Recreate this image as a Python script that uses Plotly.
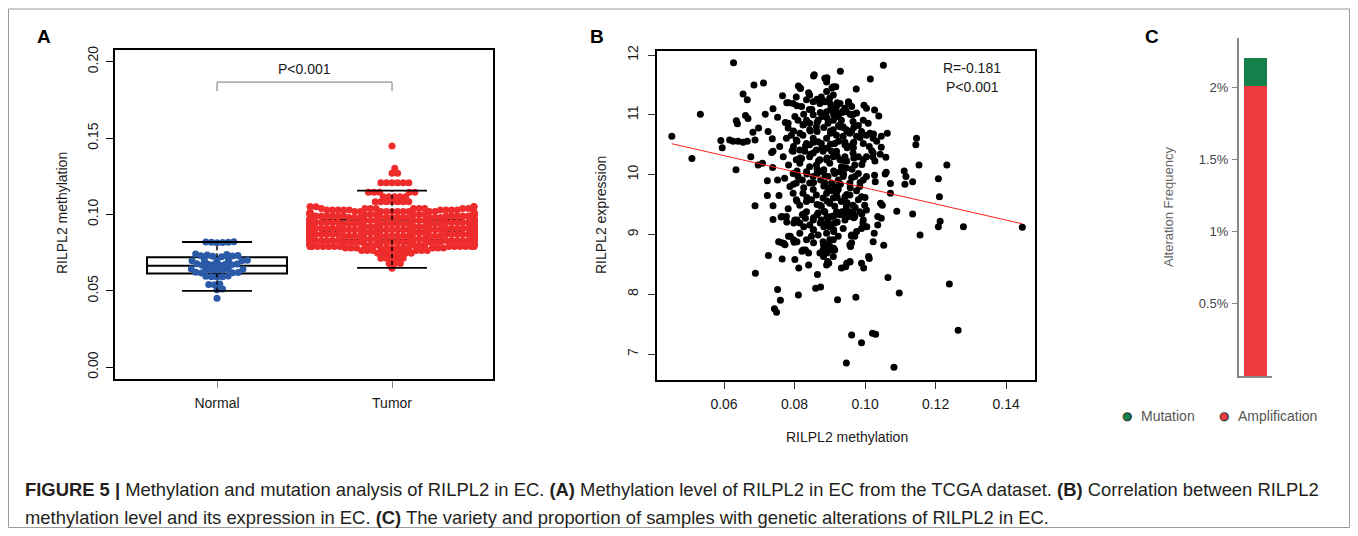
import numpy as np
import plotly.graph_objects as go

# The page body has an 8px margin on every side; the figure is sized so that
# it fits the 1358x536 window exactly, and layout positions are given in page
# pixels, converted by fx/fy.
PAGE_OFF = 8
W, H = 1358 - 2 * PAGE_OFF, 536 - 2 * PAGE_OFF

# ---------------- Panel A data ----------------
normal_values = [
    0.0820, 0.0818, 0.0816, 0.0821, 0.0815, 0.0819,
    0.0742, 0.0738, 0.0735,
    0.0730, 0.0728, 0.0726, 0.0731, 0.0724,
    0.0702, 0.0700, 0.0698, 0.0703, 0.0697, 0.0701,
    0.0676, 0.0673, 0.0671, 0.0675, 0.0669, 0.0678, 0.0672, 0.0667,
    0.0642, 0.0640, 0.0638, 0.0644, 0.0636, 0.0641, 0.0639,
    0.0621, 0.0619, 0.0617, 0.0622,
    0.0595, 0.0593, 0.0590, 0.0597, 0.0592,
    0.0545, 0.0542, 0.0540,
    0.0512, 0.0508,
    0.0452,
]
tumor_levels = [0.0648, 0.0680, 0.0713, 0.0746, 0.0765,
                0.0780, 0.0790, 0.0800, 0.0810, 0.0820, 0.0830,
                0.0840, 0.0850, 0.0860, 0.0870, 0.0880, 0.0890,
                0.0900, 0.0910, 0.0920, 0.0930, 0.0940, 0.0950, 0.0960,
                0.0970, 0.0980, 0.0990, 0.1000, 0.1010, 0.1020, 0.1030, 0.1040, 0.1050,
                0.1084, 0.1117, 0.1145, 0.1208, 0.1270, 0.1302, 0.1448]
tumor_counts = [1, 3, 5, 7, 6,
                12, 13, 14, 14, 15, 15,
                17, 18, 18, 18, 18, 18,
                16, 16, 16, 15, 15, 15, 15,
                13, 12, 12, 12, 11, 10, 9, 9, 6,
                7, 5, 5, 6, 2, 1, 1]
groups = ["Normal", "Tumor"]
group_pos = [1, 2]
box_q1 = [0.0613, 0.0833]
box_median = [0.0665, 0.0894]
box_q3 = [0.0720, 0.0966]
whisker_low = [0.0500, 0.0650]
whisker_high = [0.0820, 0.1156]
a_yticks = [0.00, 0.05, 0.10, 0.15, 0.20]
a_yticktext = ["0.00", "0.05", "0.10", "0.15", "0.20"]
pvalue_text_a = "P<0.001"

# ---------------- Panel B data ----------------
scatter_points = [
    (0.0452, 10.64), (0.0509, 10.27), (0.0533, 11.01), (0.0591, 10.57), (0.0595, 10.45), (0.0616, 10.58), (0.0627, 11.87), (0.0634, 10.08), (0.0635, 10.90), (0.0638, 10.85),
    (0.0626, 10.56), (0.0640, 10.56), (0.0654, 11.35), (0.0661, 10.99), (0.0666, 11.25), (0.0668, 10.94), (0.0654, 10.54), (0.0666, 10.56), (0.0676, 10.30), (0.0682, 10.71),
    (0.0685, 11.50), (0.0688, 10.58), (0.0688, 9.48), (0.0689, 8.35), (0.0698, 10.78), (0.0697, 10.16), (0.0712, 11.53), (0.0709, 10.19), (0.0717, 11.01), (0.0725, 10.72),
    (0.0723, 9.90), (0.0723, 9.65), (0.0726, 8.65), (0.0739, 11.10), (0.0735, 10.37), (0.0737, 10.60), (0.0739, 10.39), (0.0738, 10.12), (0.0739, 9.48), (0.0739, 9.25),
    (0.0743, 7.76), (0.0749, 7.70), (0.0752, 8.08), (0.0760, 7.90), (0.0752, 10.96), (0.0752, 9.91), (0.0756, 9.65), (0.0758, 10.47), (0.0755, 8.88), (0.0766, 11.32),
    (0.0768, 10.30), (0.0765, 8.59), (0.0762, 9.29), (0.0770, 8.85), (0.0772, 9.94), (0.0777, 9.30), (0.0778, 11.20), (0.0782, 10.86), (0.0782, 10.78), (0.0783, 10.16),
    (0.0782, 9.43), (0.0783, 8.97), (0.0787, 9.80), (0.0797, 10.47), (0.0799, 8.87), (0.0801, 8.58), (0.0805, 11.30), (0.0811, 11.48), (0.0811, 7.99), (0.0812, 8.44),
    (0.0817, 11.44), (0.0820, 11.14), (0.0824, 10.83), (0.0820, 10.27), (0.0822, 9.33), (0.0824, 8.74), (0.0831, 8.74), (0.0840, 8.49), (0.0842, 11.09), (0.0843, 11.33),
    (0.0843, 10.13), (0.0848, 9.58), (0.0856, 11.67), (0.0860, 8.10), (0.0865, 8.33), (0.0874, 8.12), (0.0886, 11.61), (0.0891, 11.55), (0.0910, 11.47), (0.0917, 11.47),
    (0.0930, 11.73), (0.0891, 8.49), (0.0894, 8.55), (0.0922, 7.91), (0.0933, 8.44), (0.0945, 8.46), (0.0947, 6.85), (0.0962, 7.32), (0.0957, 8.54), (0.0961, 8.98),
    (0.0959, 8.80), (0.0974, 7.95), (0.0990, 7.19), (0.0996, 8.44), (0.0990, 8.52), (0.0975, 11.43), (0.0953, 11.22), (0.1015, 11.60), (0.0997, 11.16), (0.1004, 11.11),
    (0.1027, 11.08), (0.1039, 10.98), (0.1052, 11.83), (0.1021, 7.35), (0.1030, 7.33), (0.1082, 6.78), (0.1065, 8.28), (0.1097, 8.02), (0.1010, 8.63), (0.1012, 8.60),
    (0.1023, 8.88), (0.1026, 9.02), (0.1036, 9.16), (0.1053, 8.82), (0.1036, 9.30), (0.1046, 9.27), (0.1044, 9.52), (0.1049, 9.49), (0.1090, 9.39), (0.1135, 9.34),
    (0.1156, 8.99), (0.1208, 9.13), (0.1213, 9.22), (0.1211, 9.63), (0.1208, 9.93), (0.1232, 10.16), (0.1239, 8.17), (0.1264, 7.40), (0.1279, 9.13), (0.1446, 9.12),
    (0.1146, 10.61), (0.1144, 10.50), (0.1153, 10.16), (0.1111, 10.06), (0.1116, 9.97), (0.1113, 9.84), (0.1135, 9.88), (0.1072, 9.85), (0.1072, 9.69), (0.1063, 10.69),
    (0.1059, 10.29), (0.1046, 10.46), (0.1046, 10.64), (0.1057, 10.01), (0.1060, 10.04), (0.1027, 9.99), (0.1029, 9.88), (0.1023, 10.36), (0.1022, 10.30), (0.1014, 10.69),
    (0.1012, 10.47),
    # dense core
    (0.0853, 11.22), (0.0864, 11.25), (0.0872, 11.19), (0.0886, 11.22), (0.0910, 11.33), (0.0929, 11.19), (0.0943, 11.11), (0.0891, 11.39), (0.0900, 11.28), (0.0919, 11.14),
    (0.0876, 11.30), (0.0962, 11.14), (0.0834, 11.25), (0.0796, 11.19),
    (0.0801, 10.97), (0.0810, 10.91), (0.0853, 11.00), (0.0867, 10.91), (0.0878, 10.97), (0.0891, 11.05), (0.0902, 11.09), (0.0910, 10.91), (0.0919, 11.05), (0.0933, 10.91),
    (0.0947, 11.05), (0.0962, 11.00), (0.0976, 11.03), (0.0995, 10.91), (0.1009, 10.86), (0.0862, 10.80), (0.0938, 10.80), (0.0834, 10.91), (0.0895, 10.86), (0.0924, 10.97),
    (0.0843, 10.86), (0.0966, 10.89),
    (0.0777, 10.61), (0.0805, 10.58), (0.0815, 10.69), (0.0824, 10.66), (0.0834, 10.52), (0.0843, 10.75), (0.0853, 10.61), (0.0864, 10.72), (0.0876, 10.52), (0.0891, 10.61),
    (0.0902, 10.69), (0.0910, 10.75), (0.0919, 10.66), (0.0929, 10.80), (0.0938, 10.64), (0.0947, 10.75), (0.0957, 10.69), (0.0966, 10.52), (0.0976, 10.64), (0.0990, 10.72),
    (0.1004, 10.66), (0.1023, 10.61), (0.0791, 10.66), (0.0914, 10.52), (0.0943, 10.50), (0.0995, 10.52), (0.0867, 10.55), (0.0843, 10.50),
    (0.0796, 10.39), (0.0805, 10.25), (0.0815, 10.41), (0.0829, 10.39), (0.0853, 10.36), (0.0862, 10.41), (0.0872, 10.25), (0.0881, 10.39), (0.0891, 10.44), (0.0900, 10.19),
    (0.0910, 10.30), (0.0919, 10.39), (0.0929, 10.25), (0.0943, 10.30), (0.0952, 10.47), (0.0966, 10.36), (0.0981, 10.30), (0.0995, 10.25), (0.1004, 10.30), (0.0815, 10.19),
    (0.0862, 10.16), (0.0891, 10.25), (0.0933, 10.13), (0.0971, 10.16), (0.0843, 10.30), (0.0905, 10.39),
    (0.0796, 10.02), (0.0810, 9.97), (0.0822, 9.91), (0.0834, 10.05), (0.0853, 9.97), (0.0864, 10.02), (0.0874, 9.91), (0.0883, 10.08), (0.0895, 9.97), (0.0905, 9.86),
    (0.0914, 10.02), (0.0924, 9.91), (0.0938, 9.97), (0.0947, 10.11), (0.0957, 9.86), (0.0971, 9.97), (0.0981, 10.02), (0.0995, 9.91), (0.1004, 9.97), (0.0843, 9.86),
    (0.0886, 9.86), (0.0914, 9.80), (0.0985, 9.80), (0.0805, 9.86), (0.0872, 10.05), (0.0929, 10.05),
    (0.0805, 9.58), (0.0815, 9.49), (0.0824, 9.69), (0.0834, 9.55), (0.0862, 9.66), (0.0872, 9.49), (0.0881, 9.61), (0.0891, 9.69), (0.0900, 9.52), (0.0910, 9.61),
    (0.0919, 9.69), (0.0933, 9.55), (0.0943, 9.63), (0.0957, 9.66), (0.0966, 9.49), (0.0981, 9.58), (0.0990, 9.63), (0.0999, 9.49), (0.0796, 9.69), (0.0853, 9.75),
    (0.0895, 9.77), (0.0924, 9.75), (0.0876, 9.47), (0.0914, 9.47), (0.0947, 9.47),
    (0.0801, 9.24), (0.0815, 9.19), (0.0834, 9.38), (0.0853, 9.24), (0.0867, 9.36), (0.0876, 9.24), (0.0886, 9.38), (0.0895, 9.22), (0.0905, 9.30), (0.0914, 9.19),
    (0.0929, 9.33), (0.0943, 9.24), (0.0957, 9.38), (0.0971, 9.30), (0.0985, 9.38), (0.0995, 9.24), (0.1004, 9.41), (0.0843, 9.16), (0.0900, 9.13), (0.0919, 9.38),
    (0.0886, 9.16),
    (0.0815, 9.02), (0.0834, 8.91), (0.0853, 9.08), (0.0867, 8.99), (0.0881, 8.88), (0.0891, 9.02), (0.0900, 8.91), (0.0911, 9.05), (0.0924, 8.97), (0.0938, 9.10),
    (0.0976, 9.05), (0.0990, 9.10), (0.0895, 8.83), (0.0910, 8.91), (0.0848, 8.97),
    (0.0872, 8.69), (0.0905, 8.74), (0.0881, 8.74), (0.0910, 8.63), (0.0900, 8.74), (0.0914, 8.74),
    # further core points (upper-left part of the cloud)
    (0.0816, 11.45), (0.0840, 11.37), (0.0854, 11.65), (0.0892, 11.62), (0.0906, 11.45), (0.0864, 11.26), (0.0883, 11.23), (0.0902, 11.18), (0.0921, 11.20), (0.0954, 11.20),
    (0.0783, 11.20), (0.0807, 11.15), (0.0826, 11.01), (0.0849, 11.09), (0.0873, 11.04), (0.0892, 10.95), (0.0911, 11.01), (0.0935, 11.04), (0.0958, 11.01), (0.0774, 10.87),
    (0.0797, 10.73), (0.0826, 10.84), (0.0845, 10.73), (0.0864, 10.87), (0.0883, 10.79), (0.0902, 10.73), (0.0925, 10.82), (0.0949, 10.73), (0.0968, 10.79), (0.0807, 10.56),
    (0.0831, 10.48), (0.0854, 10.54), (0.0878, 10.45), (0.0902, 10.51), (0.0925, 10.56), (0.0949, 10.45), (0.0968, 10.54), (0.0793, 10.40), (0.0816, 10.28), (0.0845, 10.34),
    (0.0868, 10.23), (0.0892, 10.28), (0.0921, 10.31), (0.0944, 10.23), (0.0968, 10.28), (0.0807, 10.06), (0.0835, 10.01), (0.0864, 10.09), (0.0887, 9.98), (0.0911, 10.06),
    (0.0939, 10.01), (0.0963, 10.09), (0.0797, 9.84), (0.0826, 9.78), (0.0854, 9.87), (0.0883, 9.81), (0.0906, 9.73), (0.0930, 9.84), (0.0958, 9.78), (0.0807, 9.56),
    (0.0835, 9.62), (0.0864, 9.50), (0.0892, 9.56), (0.0921, 9.62), (0.0949, 9.53), (0.0826, 9.34), (0.0854, 9.28), (0.0883, 9.39), (0.0911, 9.31), (0.0939, 9.34),
    (0.0968, 9.28),
    # further core points (right part of the cloud)
    (0.0938, 11.07), (0.0953, 11.20), (0.0967, 11.01), (0.0938, 10.79), (0.0962, 10.73), (0.0981, 10.82), (0.0943, 10.54), (0.0967, 10.45), (0.0986, 10.62), (0.0948, 10.23),
    (0.0972, 10.29), (0.0991, 10.17), (0.0938, 10.01), (0.0962, 9.95), (0.0986, 9.87), (0.0948, 9.67), (0.0976, 9.73), (0.1000, 9.62), (0.0943, 9.39), (0.0972, 9.45),
    (0.0991, 9.34), (0.1024, 10.68), (0.1033, 10.56), (0.1019, 10.40), (0.1028, 10.23), (0.1043, 10.34),
    # further core points (lower part of the cloud)
    (0.0948, 9.30), (0.0966, 9.35), (0.0994, 9.19), (0.1005, 9.13), (0.0962, 8.99), (0.0971, 8.97), (0.0957, 8.83), (0.0962, 8.86), (0.0948, 8.52), (0.0957, 8.55),
    (0.0764, 9.30), (0.0778, 9.21), (0.0798, 9.19), (0.0807, 9.24), (0.0826, 9.13), (0.0831, 9.27), (0.0854, 9.08), (0.0864, 9.33), (0.0873, 9.19), (0.0883, 9.13),
    (0.0892, 9.30), (0.0902, 9.16), (0.0911, 9.08), (0.0921, 9.21), (0.0935, 9.38), (0.0954, 9.30),
    (0.0764, 8.86), (0.0773, 8.83), (0.0788, 8.97), (0.0797, 8.91), (0.0807, 8.88), (0.0821, 8.72), (0.0840, 8.69), (0.0854, 8.86), (0.0882, 8.83), (0.0887, 8.74),
    (0.0892, 8.69), (0.0901, 8.80), (0.0911, 8.77), (0.0897, 8.52), (0.0882, 8.63),
]
fit_intercept = 11.126
fit_slope = -13.47
corr_text = ["R=-0.181", "P<0.001"]
b_xticks = [0.06, 0.08, 0.10, 0.12, 0.14]
b_xticktext = ["0.06", "0.08", "0.10", "0.12", "0.14"]
b_yticks = [7, 8, 9, 10, 11, 12]

# ---------------- Panel C data ----------------
alteration_types = ["Amplification", "Mutation"]
alteration_freq = [2.01, 0.19]  # percent
alteration_colors = ["#EE3B3F", "#14804A"]
legend_order = ["Mutation", "Amplification"]
c_yticks = [0.5, 1.0, 1.5, 2.0]
c_yticktext = ["0.5%", "1%", "1.5%", "2%"]

caption_line1 = ("<b>FIGURE 5 |</b> Methylation and mutation analysis of RILPL2 in EC. <b>(A)</b> Methylation level of "
                 "RILPL2 in EC from the TCGA dataset. <b>(B)</b> Correlation between RILPL2")
caption_line2 = ("methylation level and its expression in EC. <b>(C)</b> The variety and proportion of samples with "
                 "genetic alterations of RILPL2 in EC.")


def fx(px):
    return (px - PAGE_OFF) / W


def fy(py):
    return 1 - (py - PAGE_OFF) / H


# ---------------- beeswarm layout (pixel-space packing) ----------------
A_XRANGE = [0.417, 2.577]
A_YRANGE = [-0.0077, 0.2077]
A_XPIX = (493 - 115) / (A_XRANGE[1] - A_XRANGE[0])
A_YPIX = (379 - 50) / (A_YRANGE[1] - A_YRANGE[0])


def swarm(values, d=5.6, limit=None):
    vals = np.asarray(values, dtype=float)
    ys = vals * A_YPIX
    order = np.argsort(vals, kind="stable")
    px_list, py_list = [], []
    off = np.zeros(len(vals))
    for i in order:
        y = ys[i]
        x = 0.0
        if px_list:
            pxa = np.array(px_list)
            pya = np.array(py_list)
            dy = pya - y
            m = np.abs(dy) < d
            if m.any():
                nx = pxa[m]
                ndy = dy[m]
                h = np.sqrt(d * d - ndy * ndy)
                cand = np.concatenate([[0.0], nx + h, nx - h])
                cand = cand[np.argsort(np.abs(cand), kind="stable")]
                ok = ((cand[:, None] - nx[None, :]) ** 2 + ndy[None, :] ** 2 >= d * d - 1e-6).all(axis=1)
                x = cand[ok][0]
        px_list.append(x)
        py_list.append(y)
        off[i] = x
    if limit is not None:
        off = np.clip(off, -limit, limit)
    return off / A_XPIX


tumor_values = np.repeat(tumor_levels, tumor_counts)
normal_off = swarm(normal_values)
tumor_off = swarm(tumor_values, limit=82)

fig = go.Figure()

# Panel A points
fig.add_trace(go.Scatter(x=group_pos[0] + normal_off, y=normal_values, mode="markers",
                         marker=dict(color="#2B5BA8", size=7, line=dict(width=0)),
                         xaxis="x", yaxis="y", showlegend=False, hoverinfo="skip"))
fig.add_trace(go.Scatter(x=group_pos[1] + tumor_off, y=tumor_values, mode="markers",
                         marker=dict(color="#EE2C2C", size=7, line=dict(width=0)),
                         xaxis="x", yaxis="y", showlegend=False, hoverinfo="skip"))
# whiskers (dashed) and caps
for k in range(2):
    p = group_pos[k]
    fig.add_trace(go.Scatter(x=[p, p, None, p, p], y=[box_q3[k], whisker_high[k], None, box_q1[k], whisker_low[k]],
                             mode="lines", line=dict(color="black", width=1.5, dash="4px,3px"),
                             xaxis="x", yaxis="y", showlegend=False, hoverinfo="skip"))
    fig.add_trace(go.Scatter(x=[p - 0.2, p + 0.2, None, p - 0.2, p + 0.2],
                             y=[whisker_high[k], whisker_high[k], None, whisker_low[k], whisker_low[k]],
                             mode="lines", line=dict(color="black", width=1.8),
                             xaxis="x", yaxis="y", showlegend=False, hoverinfo="skip"))
# significance bracket
fig.add_trace(go.Scatter(x=[group_pos[0], group_pos[0], group_pos[1], group_pos[1]],
                         y=[0.1808, 0.1867, 0.1867, 0.1808], mode="lines",
                         line=dict(color="#777777", width=1), xaxis="x", yaxis="y",
                         showlegend=False, hoverinfo="skip"))

# Panel B scatter
sx = [p[0] for p in scatter_points]
sy = [p[1] for p in scatter_points]
fig.add_trace(go.Scatter(x=sx, y=sy, mode="markers", marker=dict(color="black", size=7, line=dict(width=0)),
                         xaxis="x2", yaxis="y2", showlegend=False, hoverinfo="skip"))
lx = np.array([min(sx), max(sx)])
fig.add_trace(go.Scatter(x=lx, y=fit_intercept + fit_slope * lx, mode="lines",
                         line=dict(color="#FF2020", width=1), xaxis="x2", yaxis="y2",
                         showlegend=False, hoverinfo="skip"))

# Panel A boxes (drawn on top)
fig.add_trace(go.Box(x=group_pos, q1=box_q1, median=box_median, q3=box_q3,
                     lowerfence=box_q1, upperfence=box_q3, width=0.8,
                     fillcolor="rgba(0,0,0,0)", line=dict(color="black", width=2),
                     boxpoints=False, xaxis="x", yaxis="y", showlegend=False, hoverinfo="skip"))

# Panel C stacked bar
for name, val, col in zip(alteration_types, alteration_freq, alteration_colors):
    fig.add_trace(go.Bar(x=[0], y=[val], name=name, marker=dict(color=col, line=dict(width=0)),
                         width=1.0, xaxis="x3", yaxis="y3", showlegend=False, hoverinfo="skip"))

font_main = "Liberation Sans, Arial, Helvetica, sans-serif"
tick_font = dict(family=font_main, size=14, color="#1a1a1a")

fig.update_layout(
    width=W, height=H, margin=dict(l=0, r=0, t=0, b=0, autoexpand=False),
    paper_bgcolor="white", plot_bgcolor="rgba(0,0,0,0)",
    barmode="stack", font=dict(family=font_main),
    showlegend=False,
    xaxis=dict(domain=[fx(115), fx(493)], range=A_XRANGE, tickvals=group_pos, ticktext=groups,
               ticks="outside", ticklen=7, tickcolor="#888888", showline=True, mirror=True,
               linecolor="black", linewidth=1.5, showgrid=False, zeroline=False,
               tickfont=tick_font, ticklabelstandoff=3, anchor="y", automargin=False),
    yaxis=dict(domain=[fy(379), fy(50)], range=A_YRANGE, tickvals=a_yticks, ticktext=a_yticktext,
               tickangle=-90, ticks="outside", ticklen=7, tickcolor="black", showline=True, mirror=True,
               linecolor="black", linewidth=1.5, showgrid=False, zeroline=False,
               tickfont=tick_font, ticklabelstandoff=3, anchor="x", automargin=False),
    xaxis2=dict(domain=[fx(657), fx(1035)], range=[0.041, 0.1482], tickvals=b_xticks, ticktext=b_xticktext,
                ticks="outside", ticklen=7, tickcolor="#333333", showline=True, mirror=True,
                linecolor="black", linewidth=1.5, showgrid=False, zeroline=False,
                tickfont=tick_font, ticklabelstandoff=3, anchor="y2", automargin=False),
    yaxis2=dict(domain=[fy(380), fy(51)], range=[6.567, 12.067], tickvals=b_yticks,
                tickangle=-90, ticks="outside", ticklen=7, tickcolor="#333333", showline=True, mirror=True,
                linecolor="black", linewidth=1.5, showgrid=False, zeroline=False,
                tickfont=tick_font, ticklabelstandoff=5, anchor="x2", automargin=False),
    xaxis3=dict(domain=[fx(1239), fx(1272)], range=[-0.71, 0.72], showticklabels=False, ticks="",
                showline=True, linecolor="#888888", linewidth=2, showgrid=False, zeroline=False,
                anchor="y3", automargin=False),
    yaxis3=dict(domain=[fy(376), fy(38)], range=[0, 2.342], tickvals=c_yticks, ticktext=c_yticktext,
                ticks="outside", ticklen=5, tickcolor="#888888", showline=True, linecolor="#888888",
                linewidth=2, showgrid=False, zeroline=False,
                tickfont=dict(family=font_main, size=13, color="#444444"), ticklabelstandoff=1,
                anchor="x3", automargin=False),
)

annotations = [
    dict(text="<b>A</b>", x=fx(44), y=fy(36), font=dict(size=19, color="black")),
    dict(text="<b>B</b>", x=fx(597), y=fy(36), font=dict(size=19, color="black")),
    dict(text="<b>C</b>", x=fx(1152), y=fy(36), font=dict(size=19, color="black")),
    dict(text="RILPL2 methylation", x=fx(62), y=fy(213), textangle=-90, font=dict(size=14, color="#1a1a1a")),
    dict(text="RILPL2 expression", x=fx(601), y=fy(215), textangle=-90, font=dict(size=14, color="#1a1a1a")),
    dict(text="RILPL2 methylation", x=fx(847), y=fy(437), font=dict(size=14, color="#1a1a1a")),
    dict(text="Alteration Frequency", x=fx(1168), y=fy(207), textangle=-90, font=dict(size=13, color="#666666")),
]
for a in annotations:
    a.update(xref="paper", yref="paper", showarrow=False, xanchor="center", yanchor="middle")
    a["font"]["family"] = font_main

# Panel C legend (symbol + label for each alteration type)
legend_px = {"Mutation": 1127, "Amplification": 1224}
for name in legend_order:
    col = alteration_colors[alteration_types.index(name)]
    lx0 = legend_px[name]
    annotations.append(dict(text="●", x=fx(lx0), y=fy(415.5), xref="paper", yref="paper", showarrow=False,
                            xanchor="center", yanchor="middle", font=dict(family="DejaVu Sans", size=12, color="#333333")))
    annotations.append(dict(text="●", x=fx(lx0), y=fy(415.5), xref="paper", yref="paper", showarrow=False,
                            xanchor="center", yanchor="middle", font=dict(family="DejaVu Sans", size=9, color=col)))
    annotations.append(dict(text=name, x=fx(lx0 + 12), y=fy(416), xref="paper", yref="paper", showarrow=False,
                            xanchor="left", yanchor="middle", font=dict(family=font_main, size=14, color="#555555")))

# data-anchored texts
annotations.append(dict(text=pvalue_text_a, x=1.5, y=0.1952, xref="x", yref="y", showarrow=False,
                        font=dict(family=font_main, size=14, color="#1a1a1a"), xanchor="center", yanchor="middle"))
annotations.append(dict(text=corr_text[0], x=0.1304, y=11.78, xref="x2", yref="y2", showarrow=False,
                        font=dict(family=font_main, size=14, color="#1a1a1a"), xanchor="center", yanchor="middle"))
annotations.append(dict(text=corr_text[1], x=0.1304, y=11.47, xref="x2", yref="y2", showarrow=False,
                        font=dict(family=font_main, size=14, color="#1a1a1a"), xanchor="center", yanchor="middle"))

cap_font = dict(family=font_main, size=18.4, color="#231F20")
annotations.append(dict(text=caption_line1, x=fx(23), y=fy(489), xref="paper", yref="paper", showarrow=False,
                        xanchor="left", yanchor="middle", font=cap_font))
annotations.append(dict(text=caption_line2, x=fx(23), y=fy(517), xref="paper", yref="paper", showarrow=False,
                        xanchor="left", yanchor="middle", font=cap_font))
fig.update_layout(annotations=annotations)

# outer figure frame
fig.add_shape(type="rect", xref="paper", yref="paper", x0=fx(8.5), x1=fx(1349.5), y0=fy(527.5), y1=fy(9),
              line=dict(color="#9a9a9a", width=1), fillcolor="rgba(0,0,0,0)", layer="below")

fig.write_html("out.html")
